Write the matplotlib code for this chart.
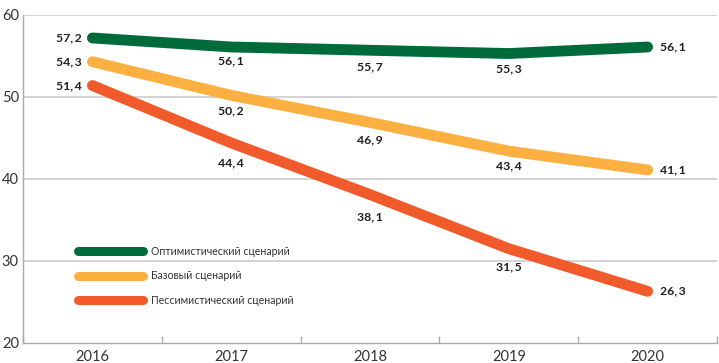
import matplotlib
matplotlib.use("Agg")
import matplotlib.pyplot as plt
from matplotlib.ticker import FixedLocator

years = ["2016", "2017", "2018", "2019", "2020"]
optimistic = [57.2, 56.1, 55.7, 55.3, 56.1]
base = [54.3, 50.2, 46.9, 43.4, 41.1]
pessimistic = [51.4, 44.4, 38.1, 31.5, 26.3]
series_names = ["Оптимистический сценарий", "Базовый сценарий", "Пессимистический сценарий"]
colors = ["#006b3a", "#fdb042", "#f15a2a"]
yticks = [20, 30, 40, 50, 60]

plt.rcParams['font.family'] = ['Lato', 'DejaVu Sans']

fig = plt.figure(figsize=(7.19, 3.63), dpi=100)
ax = fig.add_axes([23/719, 1-343/363, 694/719, 328/363])

x = list(range(len(years)))
all_series = [optimistic, base, pessimistic]
for vals, name, c in zip(all_series, series_names, colors):
    ax.plot(x, vals, color=c, lw=7.8, solid_capstyle='round', solid_joinstyle='round', label=name, zorder=3)

# label offsets (pixels) for the middle points: below the line
mid_offsets = [[-14, -17, -15], [-15, -17, -15], [-20, -22, -18]]
for si, vals in enumerate(all_series):
    for i, v in enumerate(vals):
        txt = f"{v:.1f}".replace('.', ',\u2009')
        if i == 0:
            ax.annotate(txt, (i, v), xytext=(-11, 0), textcoords='offset pixels',
                        ha='right', va='center', fontsize=8.8, fontweight='bold', color='#231f20')
        elif i == len(vals) - 1:
            ax.annotate(txt, (i, v), xytext=(12, 0), textcoords='offset pixels',
                        ha='left', va='center', fontsize=8.8, fontweight='bold', color='#231f20')
        else:
            ax.annotate(txt, (i, v), xytext=(0, mid_offsets[si][i-1]), textcoords='offset pixels',
                        ha='center', va='center', fontsize=8.8, fontweight='bold', color='#231f20')

ax.set_xlim(-0.5, len(years) - 0.5)
ax.set_ylim(20, 60)
ax.set_yticks(yticks)
ax.set_yticklabels([str(t) for t in yticks])
ax.set_xticks(x)
ax.set_xticklabels(years)
ax.xaxis.set_minor_locator(FixedLocator([i - 0.5 for i in range(len(years) + 1)]))
ax.tick_params(axis='x', which='major', length=0, labelsize=10.5, colors='#333333', pad=5)
ax.tick_params(axis='x', which='minor', direction='in', length=5, width=1, color='#aaaaaa')
ax.tick_params(axis='y', length=0, labelsize=10.5, labelcolor='#333333', pad=3)

for yv in yticks[1:]:
    ax.axhline(yv, color='#c8c8c8', lw=1.1, zorder=1)

for s in ['top', 'right']:
    ax.spines[s].set_visible(False)
for s in ['left', 'bottom']:
    ax.spines[s].set_color('#aaaaaa')
    ax.spines[s].set_linewidth(1.0)

leg = ax.legend(loc='upper left', bbox_to_anchor=((78-23)/694, 0.297), frameon=False,
                fontsize=7.6, handlelength=6.2, handletextpad=0.75, labelspacing=1.3,
                borderpad=0, borderaxespad=0)
for line in leg.get_lines():
    line.set_linewidth(6.5)
for t in leg.get_texts():
    t.set_color('#333333')

fig.savefig("out.png", dpi=100)
